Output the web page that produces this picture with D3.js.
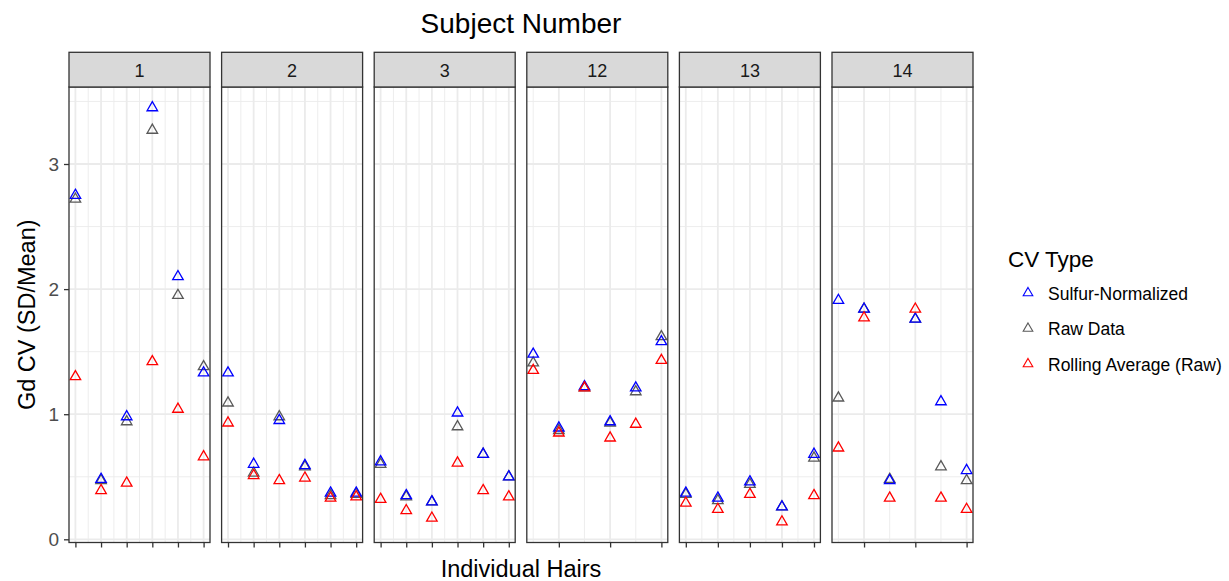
<!DOCTYPE html>
<html>
<head>
<meta charset="utf-8">
<script src="https://cdn.jsdelivr.net/npm/d3@7"></script>
<style>
  body { margin: 0; background: #fff; }
  text { font-family: 'Liberation Sans', Arial, sans-serif; }
</style>
</head>
<body>
<svg width="1229" height="581"></svg>
<script>
const subjects = ['1', '2', '3', '12', '13', '14'];

const hairs = [
  [1, 2, 3, 4, 5, 6],
  [1, 2, 3, 4, 5, 6],
  [1, 2, 3, 4, 5, 6],
  [1, 2, 3, 4, 5, 6],
  [1, 2, 3, 4, 5],
  [1, 2, 3, 4, 5, 6]
];

const hairBreaks = [
  [1, 2, 3, 4, 5, 6],
  [1, 2, 3, 4, 5, 6],
  [1, 2, 3, 4, 5, 6],
  [2, 4, 6],
  [1, 2, 3, 4, 5],
  [2, 4, 6]
];

const sulfurNormalized = [
  [2.75, 0.48, 0.98, 3.45, 2.10, 1.33],
  [1.33, 0.60, 0.95, 0.59, 0.37, 0.37],
  [0.62, 0.35, 0.30, 1.01, 0.68, 0.50],
  [1.48, 0.89, 1.22, 0.94, 1.21, 1.58],
  [0.37, 0.33, 0.46, 0.26, 0.68],
  [1.91, 1.84, 0.47, 1.76, 1.10, 0.55]
];

const rawData = [
  [2.72, 0.47, 0.94, 3.27, 1.95, 1.38],
  [1.09, 0.53, 0.98, 0.58, 0.35, 0.36],
  [0.60, 0.34, 0.30, 0.90, 0.68, 0.50],
  [1.41, 0.87, 1.21, 0.93, 1.18, 1.62],
  [0.36, 0.31, 0.44, 0.26, 0.65],
  [1.13, 1.84, 0.48, 1.76, 0.58, 0.47]
];

const rollingAverage = [
  [1.30, 0.39, 0.45, 1.42, 1.04, 0.66],
  [0.93, 0.51, 0.47, 0.49, 0.33, 0.34],
  [0.32, 0.23, 0.17, 0.61, 0.39, 0.34],
  [1.35, 0.85, 1.21, 0.81, 0.92, 1.43],
  [0.29, 0.24, 0.36, 0.14, 0.35],
  [0.73, 1.77, 0.33, 1.84, 0.33, 0.24]
];

const yTicks = [0, 1, 2, 3];
const yMinorTicks = [0.5, 1.5, 2.5, 3.5];

const seriesNames = ['Sulfur-Normalized', 'Raw Data', 'Rolling Average (Raw)'];
const seriesColors = ['#0000FF', '#595959', '#FF0000'];

(function (d3) {
  'use strict';

  const svg = d3.select('svg');

  const panelLeft = 69;
  const panelRight = 973;
  const panelTop = 87;
  const panelBottom = 542.5;
  const stripTop = 52.3;

  const series = [sulfurNormalized, rawData, rollingAverage];
  // drawing order: raw first, then sulfur, then rolling on top
  const drawOrder = [1, 0, 2];

  const allValues = d3.merge(series.map(s => d3.merge(s)));
  const [ymin, ymax] = d3.extent(allValues);
  const ypad = (ymax - ymin) * 0.05;

  const yScale = d3.scaleLinear()
    .domain([ymin - ypad, ymax + ypad])
    .range([panelBottom, panelTop]);

  const panelScale = d3.scaleBand()
    .domain(subjects)
    .range([panelLeft, panelRight])
    .paddingInner(0.076);

  const pw = panelScale.bandwidth();
  const triangle = d3.symbol(d3.symbolTriangle, 48);

  subjects.forEach((subj, i) => {
    const x0 = panelScale(subj);
    const hx = hairs[i];
    const [xmin, xmax] = d3.extent(hx);
    const xpad = (xmax - xmin) * 0.05;
    const xScale = d3.scaleLinear()
      .domain([xmin - xpad, xmax + xpad])
      .range([0, pw]);

    const breaks = hairBreaks[i];
    const step = breaks[1] - breaks[0];
    const minor = [];
    for (let b = breaks[0] - step / 2; b <= xmax + xpad; b += step) {
      if (b >= xmin - xpad) minor.push(b);
    }

    const g = svg.append('g')
      .attr('transform', `translate(${x0},0)`);

    // minor grid
    g.selectAll('.ymin').data(yMinorTicks).enter().append('line')
      .attr('x1', 0).attr('x2', pw)
      .attr('y1', d => yScale(d)).attr('y2', d => yScale(d))
      .attr('stroke', '#EBEBEB').attr('stroke-width', 0.9);
    g.selectAll('.xmin').data(minor).enter().append('line')
      .attr('x1', d => xScale(d)).attr('x2', d => xScale(d))
      .attr('y1', panelTop).attr('y2', panelBottom)
      .attr('stroke', '#EBEBEB').attr('stroke-width', 0.9);

    // major grid
    g.selectAll('.ymaj').data(yTicks).enter().append('line')
      .attr('x1', 0).attr('x2', pw)
      .attr('y1', d => yScale(d)).attr('y2', d => yScale(d))
      .attr('stroke', '#EBEBEB').attr('stroke-width', 1.8);
    g.selectAll('.xmaj').data(breaks).enter().append('line')
      .attr('x1', d => xScale(d)).attr('x2', d => xScale(d))
      .attr('y1', panelTop).attr('y2', panelBottom)
      .attr('stroke', '#EBEBEB').attr('stroke-width', 1.8);

    // points
    drawOrder.forEach(k => {
      const pts = hx.map((h, j) => ({ x: h, y: series[k][i][j] }));
      g.selectAll(null).data(pts).enter().append('path')
        .attr('d', triangle)
        .attr('transform', d => `translate(${xScale(d.x)},${yScale(d.y)})`)
        .attr('fill', 'none')
        .attr('stroke', seriesColors[k])
        .attr('stroke-width', 1.3);
    });

    // panel border
    g.append('rect')
      .attr('x', 0).attr('y', panelTop)
      .attr('width', pw).attr('height', panelBottom - panelTop)
      .attr('fill', 'none').attr('stroke', '#333333').attr('stroke-width', 1.3);

    // strip
    g.append('rect')
      .attr('x', 0).attr('y', stripTop)
      .attr('width', pw).attr('height', panelTop - stripTop)
      .attr('fill', '#D9D9D9').attr('stroke', '#333333').attr('stroke-width', 1.3);
    g.append('text')
      .attr('x', pw / 2).attr('y', 76.5)
      .attr('text-anchor', 'middle')
      .attr('fill', '#1A1A1A')
      .style('font-size', '18px')
      .text(subj);

    // x axis ticks (no labels)
    const xAxis = d3.axisBottom(xScale)
      .tickValues(breaks)
      .tickSize(5)
      .tickFormat('');
    const xAxisG = g.append('g')
      .attr('transform', `translate(0,${panelBottom})`)
      .call(xAxis);
    xAxisG.select('.domain').remove();
    xAxisG.selectAll('.tick line').attr('stroke', '#333333').attr('stroke-width', 1.3);
  });

  // y axis
  const yAxis = d3.axisLeft(yScale)
    .tickValues(yTicks)
    .tickFormat(d3.format('d'))
    .tickSize(5)
    .tickPadding(5);
  const yAxisG = svg.append('g')
    .attr('transform', `translate(${panelLeft},0)`)
    .call(yAxis);
  yAxisG.select('.domain').remove();
  yAxisG.selectAll('.tick line').attr('stroke', '#333333').attr('stroke-width', 1.3);
  yAxisG.selectAll('.tick text')
    .attr('fill', '#4D4D4D')
    .style('font-size', '19px')
    .style('font-family', "'Liberation Sans', Arial, sans-serif");

  // titles
  svg.append('text')
    .attr('x', (panelLeft + panelRight) / 2).attr('y', 33)
    .attr('text-anchor', 'middle')
    .style('font-size', '28px')
    .text('Subject Number');

  svg.append('text')
    .attr('x', (panelLeft + panelRight) / 2).attr('y', 577)
    .attr('text-anchor', 'middle')
    .style('font-size', '23.5px')
    .text('Individual Hairs');

  svg.append('text')
    .attr('transform', `translate(35,${(panelTop + panelBottom) / 2}) rotate(-90)`)
    .attr('text-anchor', 'middle')
    .style('font-size', '23.5px')
    .text('Gd CV (SD/Mean)');

  // legend
  const legend = svg.append('g').attr('transform', 'translate(1008,0)');
  legend.append('text')
    .attr('x', 0).attr('y', 267)
    .style('font-size', '22.5px')
    .text('CV Type');

  const legendItems = legend.selectAll('.item').data(seriesNames).enter().append('g')
    .attr('transform', (d, i) => `translate(0,${293 + i * 35.5})`);
  legendItems.append('path')
    .attr('d', d3.symbol(d3.symbolTriangle, 40))
    .attr('transform', 'translate(20,0)')
    .attr('fill', 'none')
    .attr('stroke', (d, i) => seriesColors[i])
    .attr('stroke-width', 1.1);
  legendItems.append('text')
    .attr('x', 40).attr('y', 6.5)
    .style('font-size', '17.5px')
    .text(d => d);

}(d3));
</script>
</body>
</html>
